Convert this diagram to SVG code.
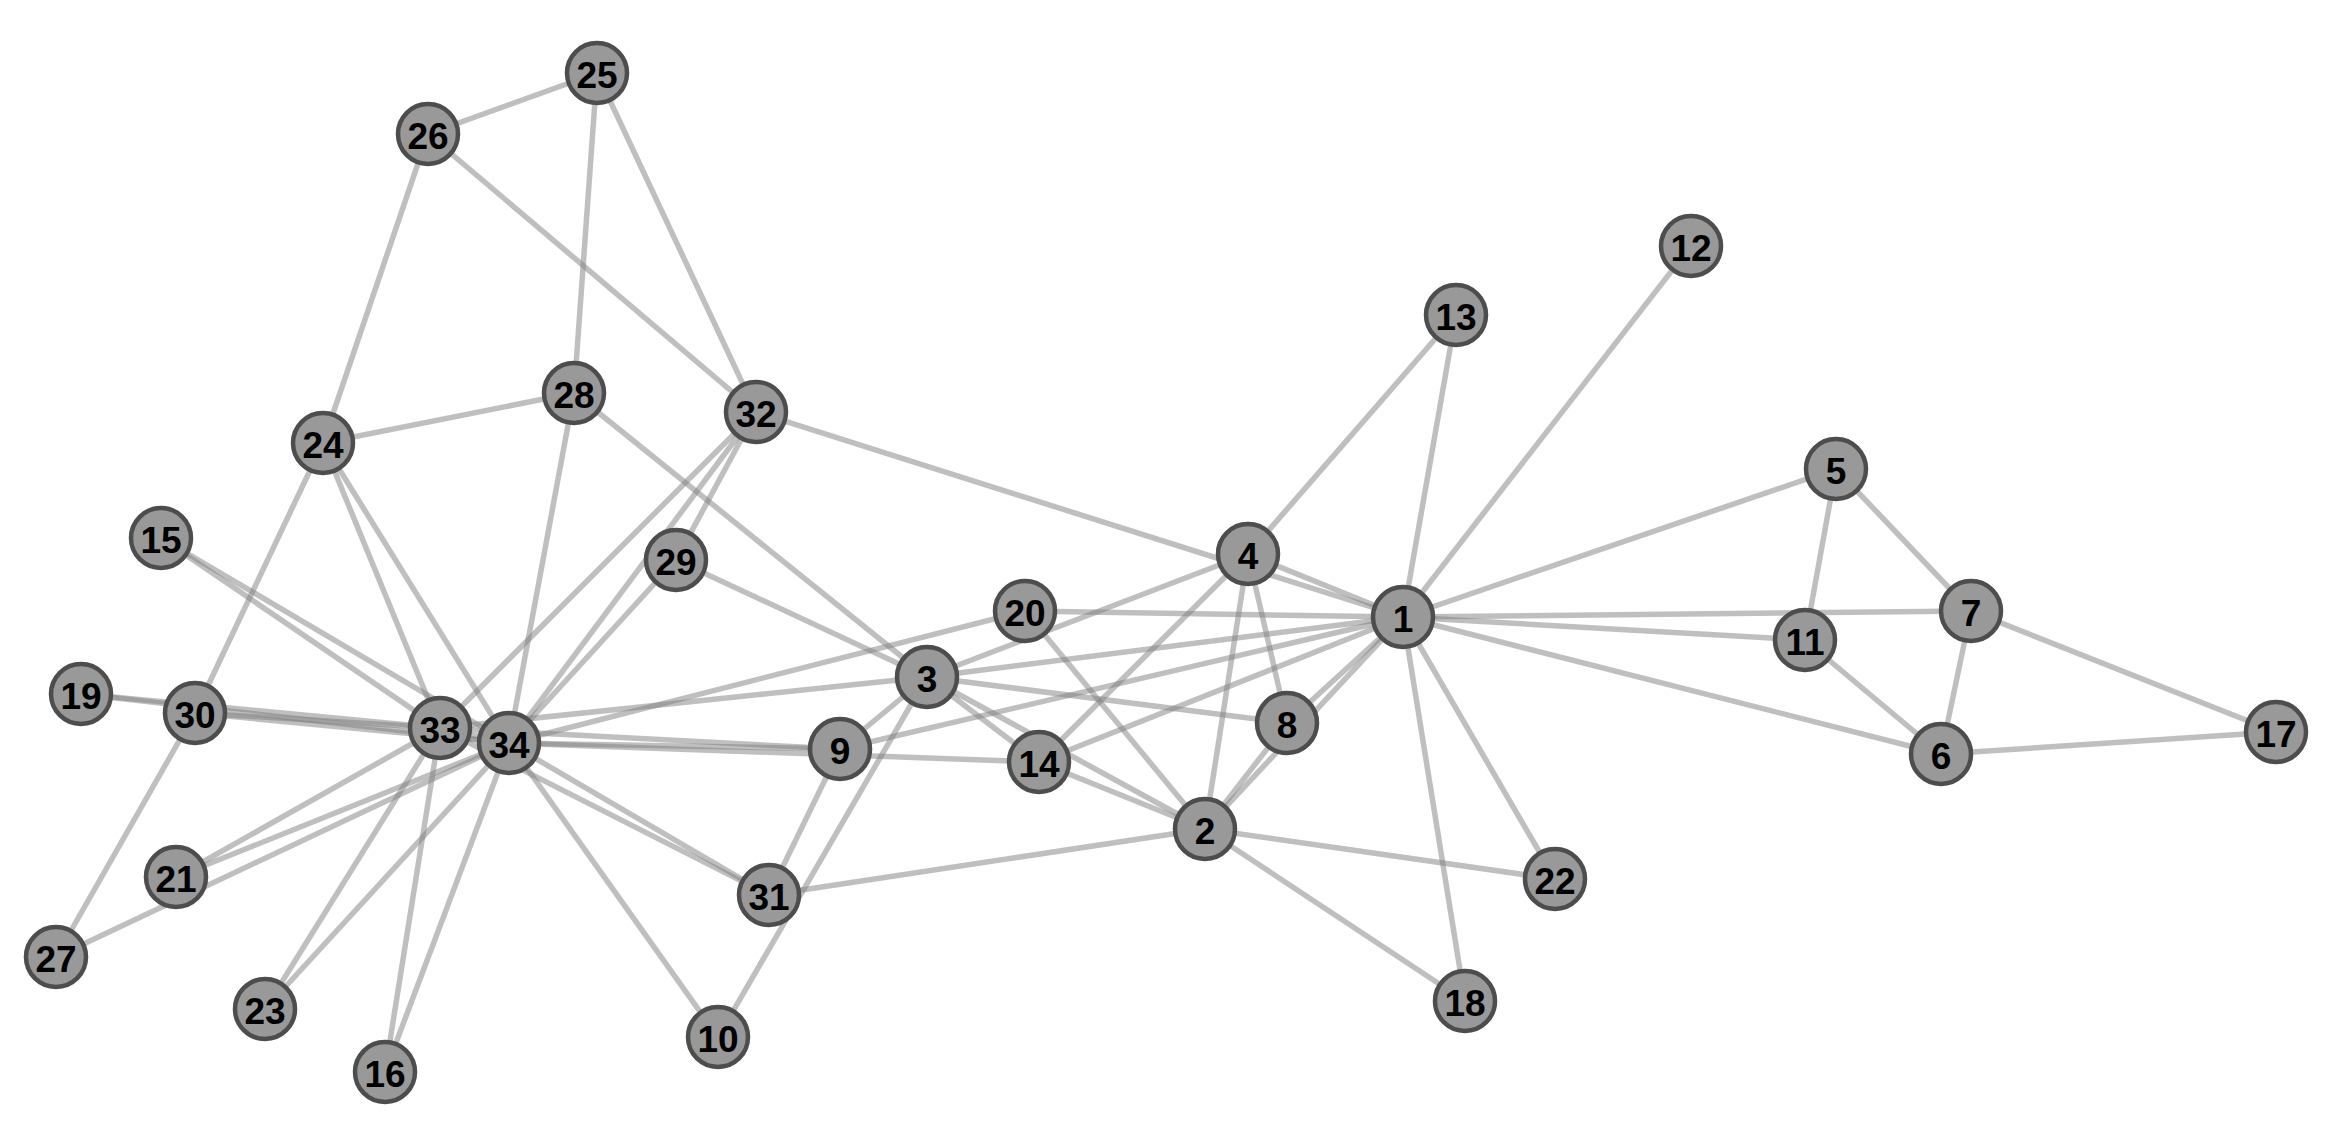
<svg xmlns="http://www.w3.org/2000/svg" width="2348" height="1141" viewBox="0 0 2348 1141">
<style>
.e{stroke:#808080;stroke-opacity:0.5;stroke-width:5.5;fill:none}
.n circle{fill:#999999;stroke:#4d4d4d;stroke-width:4.5}
.n text{font-family:"Liberation Sans",Arial,sans-serif;font-weight:bold;font-size:37px;fill:#000;text-anchor:middle}
</style>
<rect width="2348" height="1141" fill="#ffffff"/>
<g id="edges">
<line class="e" x1="1403" y1="617" x2="1205" y2="829"/>
<line class="e" x1="1403" y1="617" x2="927" y2="677"/>
<line class="e" x1="1403" y1="617" x2="1248" y2="554"/>
<line class="e" x1="1403" y1="617" x2="1836" y2="469"/>
<line class="e" x1="1403" y1="617" x2="1941" y2="754"/>
<line class="e" x1="1403" y1="617" x2="1971" y2="611"/>
<line class="e" x1="1403" y1="617" x2="1287" y2="723"/>
<line class="e" x1="1403" y1="617" x2="840" y2="749"/>
<line class="e" x1="1403" y1="617" x2="1805" y2="640"/>
<line class="e" x1="1403" y1="617" x2="1691" y2="246"/>
<line class="e" x1="1403" y1="617" x2="1456" y2="315"/>
<line class="e" x1="1403" y1="617" x2="1039" y2="762"/>
<line class="e" x1="1403" y1="617" x2="1465" y2="1001"/>
<line class="e" x1="1403" y1="617" x2="1025" y2="611"/>
<line class="e" x1="1403" y1="617" x2="1555" y2="879"/>
<line class="e" x1="1403" y1="617" x2="756" y2="412"/>
<line class="e" x1="1205" y1="829" x2="927" y2="677"/>
<line class="e" x1="1205" y1="829" x2="1248" y2="554"/>
<line class="e" x1="1205" y1="829" x2="1287" y2="723"/>
<line class="e" x1="1205" y1="829" x2="1039" y2="762"/>
<line class="e" x1="1205" y1="829" x2="1465" y2="1001"/>
<line class="e" x1="1205" y1="829" x2="1025" y2="611"/>
<line class="e" x1="1205" y1="829" x2="1555" y2="879"/>
<line class="e" x1="1205" y1="829" x2="769" y2="895"/>
<line class="e" x1="927" y1="677" x2="1248" y2="554"/>
<line class="e" x1="927" y1="677" x2="1287" y2="723"/>
<line class="e" x1="927" y1="677" x2="840" y2="749"/>
<line class="e" x1="927" y1="677" x2="718" y2="1037"/>
<line class="e" x1="927" y1="677" x2="1039" y2="762"/>
<line class="e" x1="927" y1="677" x2="574" y2="393"/>
<line class="e" x1="927" y1="677" x2="676" y2="560"/>
<line class="e" x1="927" y1="677" x2="440" y2="728"/>
<line class="e" x1="1248" y1="554" x2="1287" y2="723"/>
<line class="e" x1="1248" y1="554" x2="1456" y2="315"/>
<line class="e" x1="1248" y1="554" x2="1039" y2="762"/>
<line class="e" x1="1836" y1="469" x2="1971" y2="611"/>
<line class="e" x1="1836" y1="469" x2="1805" y2="640"/>
<line class="e" x1="1941" y1="754" x2="1971" y2="611"/>
<line class="e" x1="1941" y1="754" x2="1805" y2="640"/>
<line class="e" x1="1941" y1="754" x2="2276" y2="732"/>
<line class="e" x1="1971" y1="611" x2="2276" y2="732"/>
<line class="e" x1="840" y1="749" x2="769" y2="895"/>
<line class="e" x1="840" y1="749" x2="440" y2="728"/>
<line class="e" x1="840" y1="749" x2="509" y2="743"/>
<line class="e" x1="718" y1="1037" x2="509" y2="743"/>
<line class="e" x1="1039" y1="762" x2="509" y2="743"/>
<line class="e" x1="161" y1="538" x2="440" y2="728"/>
<line class="e" x1="161" y1="538" x2="509" y2="743"/>
<line class="e" x1="385" y1="1072" x2="440" y2="728"/>
<line class="e" x1="385" y1="1072" x2="509" y2="743"/>
<line class="e" x1="81" y1="694" x2="440" y2="728"/>
<line class="e" x1="81" y1="694" x2="509" y2="743"/>
<line class="e" x1="1025" y1="611" x2="509" y2="743"/>
<line class="e" x1="176" y1="877" x2="440" y2="728"/>
<line class="e" x1="176" y1="877" x2="509" y2="743"/>
<line class="e" x1="265" y1="1009" x2="440" y2="728"/>
<line class="e" x1="265" y1="1009" x2="509" y2="743"/>
<line class="e" x1="323" y1="443" x2="428" y2="134"/>
<line class="e" x1="323" y1="443" x2="574" y2="393"/>
<line class="e" x1="323" y1="443" x2="195" y2="713"/>
<line class="e" x1="323" y1="443" x2="440" y2="728"/>
<line class="e" x1="323" y1="443" x2="509" y2="743"/>
<line class="e" x1="597" y1="73" x2="428" y2="134"/>
<line class="e" x1="597" y1="73" x2="574" y2="393"/>
<line class="e" x1="597" y1="73" x2="756" y2="412"/>
<line class="e" x1="428" y1="134" x2="756" y2="412"/>
<line class="e" x1="56" y1="957" x2="195" y2="713"/>
<line class="e" x1="56" y1="957" x2="509" y2="743"/>
<line class="e" x1="574" y1="393" x2="509" y2="743"/>
<line class="e" x1="676" y1="560" x2="756" y2="412"/>
<line class="e" x1="676" y1="560" x2="509" y2="743"/>
<line class="e" x1="195" y1="713" x2="440" y2="728"/>
<line class="e" x1="195" y1="713" x2="509" y2="743"/>
<line class="e" x1="769" y1="895" x2="440" y2="728"/>
<line class="e" x1="769" y1="895" x2="509" y2="743"/>
<line class="e" x1="756" y1="412" x2="440" y2="728"/>
<line class="e" x1="756" y1="412" x2="509" y2="743"/>
<line class="e" x1="440" y1="728" x2="509" y2="743"/>
</g>
<g id="node1" class="n"><circle cx="1403" cy="617" r="30"/><text x="1403" y="632">1</text></g>
<g id="node2" class="n"><circle cx="1205" cy="829" r="30"/><text x="1205" y="844">2</text></g>
<g id="node3" class="n"><circle cx="927" cy="677" r="30"/><text x="927" y="692">3</text></g>
<g id="node4" class="n"><circle cx="1248" cy="554" r="30"/><text x="1248" y="569">4</text></g>
<g id="node5" class="n"><circle cx="1836" cy="469" r="30"/><text x="1836" y="484">5</text></g>
<g id="node6" class="n"><circle cx="1941" cy="754" r="30"/><text x="1941" y="769">6</text></g>
<g id="node7" class="n"><circle cx="1971" cy="611" r="30"/><text x="1971" y="626">7</text></g>
<g id="node8" class="n"><circle cx="1287" cy="723" r="30"/><text x="1287" y="738">8</text></g>
<g id="node9" class="n"><circle cx="840" cy="749" r="30"/><text x="840" y="764">9</text></g>
<g id="node10" class="n"><circle cx="718" cy="1037" r="30"/><text x="718" y="1052">10</text></g>
<g id="node11" class="n"><circle cx="1805" cy="640" r="30"/><text x="1805" y="655">11</text></g>
<g id="node12" class="n"><circle cx="1691" cy="246" r="30"/><text x="1691" y="261">12</text></g>
<g id="node13" class="n"><circle cx="1456" cy="315" r="30"/><text x="1456" y="330">13</text></g>
<g id="node14" class="n"><circle cx="1039" cy="762" r="30"/><text x="1039" y="777">14</text></g>
<g id="node15" class="n"><circle cx="161" cy="538" r="30"/><text x="161" y="553">15</text></g>
<g id="node16" class="n"><circle cx="385" cy="1072" r="30"/><text x="385" y="1087">16</text></g>
<g id="node17" class="n"><circle cx="2276" cy="732" r="30"/><text x="2276" y="747">17</text></g>
<g id="node18" class="n"><circle cx="1465" cy="1001" r="30"/><text x="1465" y="1016">18</text></g>
<g id="node19" class="n"><circle cx="81" cy="694" r="30"/><text x="81" y="709">19</text></g>
<g id="node20" class="n"><circle cx="1025" cy="611" r="30"/><text x="1025" y="626">20</text></g>
<g id="node21" class="n"><circle cx="176" cy="877" r="30"/><text x="176" y="892">21</text></g>
<g id="node22" class="n"><circle cx="1555" cy="879" r="30"/><text x="1555" y="894">22</text></g>
<g id="node23" class="n"><circle cx="265" cy="1009" r="30"/><text x="265" y="1024">23</text></g>
<g id="node24" class="n"><circle cx="323" cy="443" r="30"/><text x="323" y="458">24</text></g>
<g id="node25" class="n"><circle cx="597" cy="73" r="30"/><text x="597" y="88">25</text></g>
<g id="node26" class="n"><circle cx="428" cy="134" r="30"/><text x="428" y="149">26</text></g>
<g id="node27" class="n"><circle cx="56" cy="957" r="30"/><text x="56" y="972">27</text></g>
<g id="node28" class="n"><circle cx="574" cy="393" r="30"/><text x="574" y="408">28</text></g>
<g id="node29" class="n"><circle cx="676" cy="560" r="30"/><text x="676" y="575">29</text></g>
<g id="node30" class="n"><circle cx="195" cy="713" r="30"/><text x="195" y="728">30</text></g>
<g id="node31" class="n"><circle cx="769" cy="895" r="30"/><text x="769" y="910">31</text></g>
<g id="node32" class="n"><circle cx="756" cy="412" r="30"/><text x="756" y="427">32</text></g>
<g id="node33" class="n"><circle cx="440" cy="728" r="30"/><text x="440" y="743">33</text></g>
<g id="node34" class="n"><circle cx="509" cy="743" r="30"/><text x="509" y="758">34</text></g>
</svg>
